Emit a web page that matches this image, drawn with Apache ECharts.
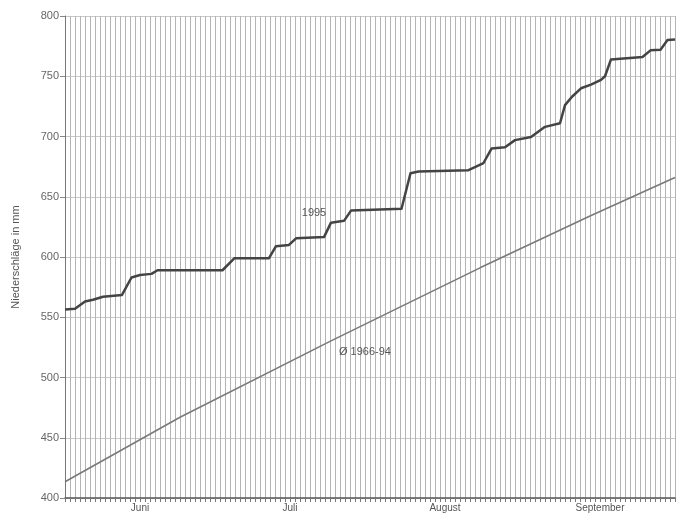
<!DOCTYPE html>
<html>
<head>
<meta charset="utf-8">
<script src="https://cdn.jsdelivr.net/npm/echarts@6/dist/echarts.min.js"></script>
<style>
html,body{margin:0;padding:0;background:#fff;}
#c{width:678px;height:518px;}
</style>
</head>
<body>
<div id="c"></div>
<script>
// Days counted from 1 June (0) to 30 September (122)
const monthLabels = {15: 'Juni', 45: 'Juli', 76: 'August', 107: 'September'};
const yTicks = [400, 450, 500, 550, 600, 650, 700, 750, 800];

// 1995 cumulative precipitation (mm)
const days1995 = [0, 2, 4, 5.6, 7.6, 11.4, 13.3, 15, 17.3, 18.5, 31.5, 33.9, 40.8, 42.2, 44.8, 46.2, 51.8, 53.2, 55.8, 57.2, 67.3, 69.1, 70.7, 80.7, 83.7, 85.3, 88, 90, 93.2, 96, 99, 100, 101.4, 103.2, 105.2, 107.2, 108, 109.2, 115.5, 117.1, 119.1, 120.5, 122];
const rain1995 = [556.5, 557, 563, 564.5, 567, 568.5, 583, 585, 586, 589, 589, 599, 599, 609, 610, 615.5, 616.5, 628.5, 630, 638.5, 640, 669.5, 671, 672, 678, 690, 691, 697, 699.5, 708, 711, 726, 733, 740, 743, 747, 750, 764, 766, 771.5, 772, 780, 780.5];

// Mean 1966-94 cumulative precipitation (mm)
const daysMean = [0, 23, 53, 83, 105, 122];
const rainMean = [413.5, 467, 530, 591, 634, 666];

const font = 'Liberation Sans, Arial, sans-serif';
const chart = echarts.init(document.getElementById('c'));
chart.setOption({
  animation: false,
  backgroundColor: '#fff',
  grid: {left: 65, right: 1, top: 16, bottom: 20},
  xAxis: {
    type: 'value', min: 0, max: 122, interval: 1,
    axisLine: {show: true, onZero: false, lineStyle: {color: '#555', width: 1.5}},
    axisTick: {show: true, length: 4, lineStyle: {color: '#777'}},
    axisLabel: {
      color: '#555', fontFamily: font, fontSize: 10, margin: 5,
      formatter: v => monthLabels[Math.round(v)] || ''
    },
    splitLine: {show: true, lineStyle: {color: '#b4b4b4', width: 1}}
  },
  yAxis: {
    type: 'value', min: 400, max: 800, interval: 50,
    name: 'Niederschläge in mm', nameLocation: 'middle', nameGap: 44, nameRotate: 90,
    nameTextStyle: {color: '#555', fontFamily: font, fontSize: 11},
    axisLine: {show: true, lineStyle: {color: '#777', width: 1}},
    axisTick: {show: true, length: 5, lineStyle: {color: '#888'}},
    axisLabel: {color: '#666', fontFamily: font, fontSize: 11, margin: 6,
      formatter: v => yTicks.includes(v) ? String(v) : ''},
    splitLine: {show: true, lineStyle: {color: '#c8c8c8', width: 1}}
  },
  series: [
    {
      type: 'line', name: 'Ø 1966-94',
      data: daysMean.map((d, i) => [d, rainMean[i]]),
      showSymbol: false,
      lineStyle: {color: '#7a7a7a', width: 1.6},
      markPoint: {
        symbol: 'circle', symbolSize: 0,
        label: {show: true, formatter: 'Ø 1966-94', color: '#555', fontFamily: font, fontSize: 11},
        data: [{coord: [60, 521]}]
      }
    },
    {
      type: 'line', name: '1995',
      data: days1995.map((d, i) => [d, rain1995[i]]),
      showSymbol: false,
      lineStyle: {color: '#444', width: 2.5, join: 'round'},
      markPoint: {
        symbol: 'circle', symbolSize: 0,
        label: {show: true, formatter: '1995', color: '#555', fontFamily: font, fontSize: 11},
        data: [{coord: [49.8, 636.5]}]
      }
    }
  ]
});
</script>
</body>
</html>
